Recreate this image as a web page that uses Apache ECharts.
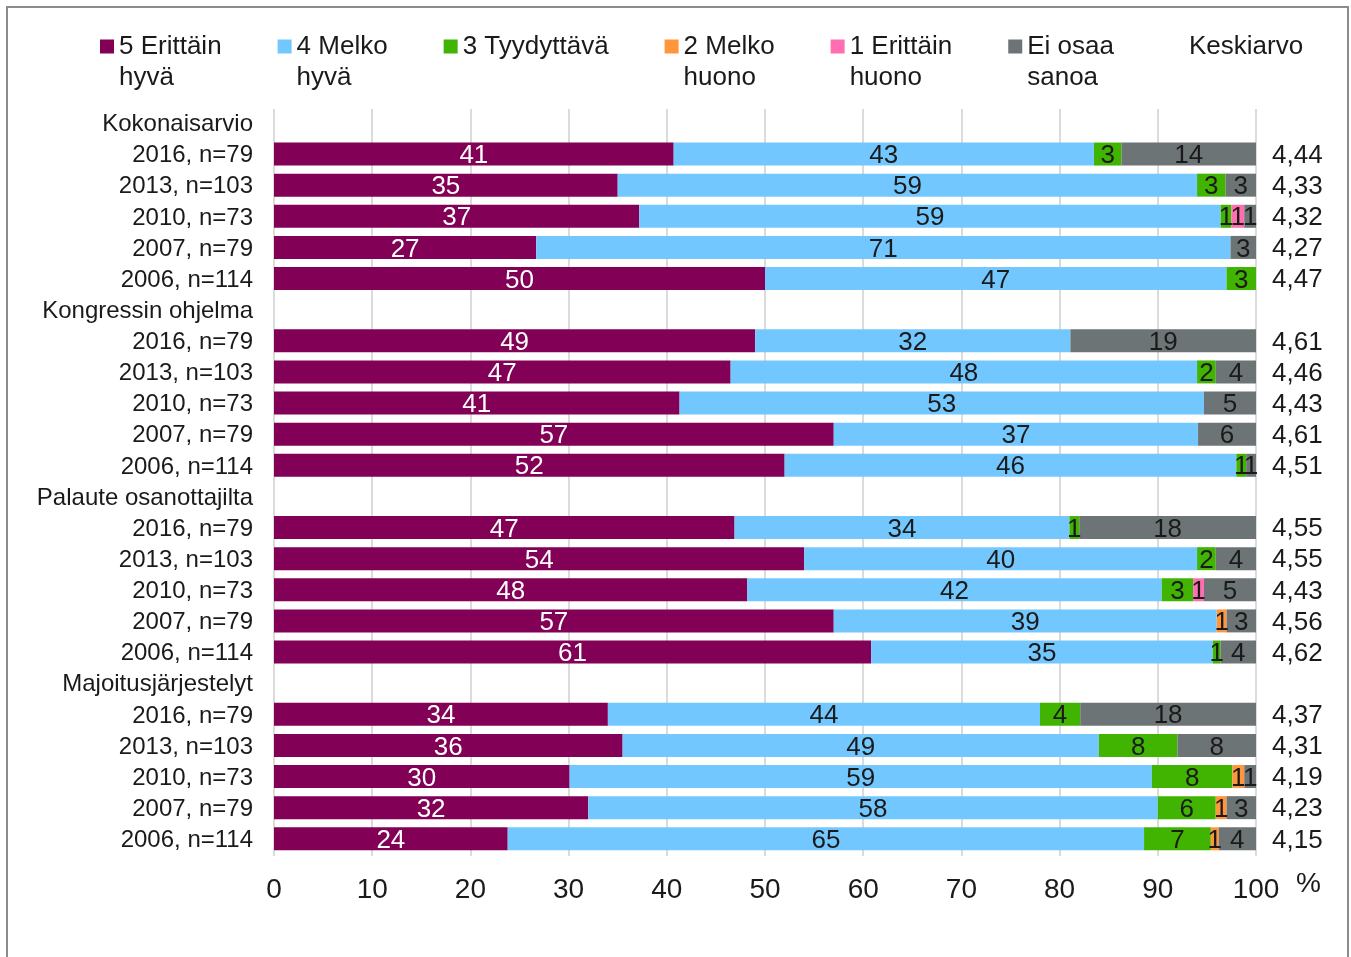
<!DOCTYPE html>
<html>
<head>
<meta charset="utf-8">
<script src="https://cdn.jsdelivr.net/npm/echarts@6/dist/echarts.min.js"></script>
<style>
  body { margin: 0; background: #fff; }
  #chart { position: absolute; left: 0; top: 0; width: 1351px; height: 957px; }
  #frame {
    position: absolute; left: 6px; top: 6px; width: 1339px; height: 960px;
    border: 2px solid #8c8c8c; border-bottom: none; pointer-events: none;
  }
</style>
</head>
<body>
<div id="chart"></div>
<div id="frame"></div>
<script>
// rivit (ryhmäotsikot mukana)
const rows = [
  'Kokonaisarvio', '2016, n=79', '2013, n=103', '2010, n=73', '2007, n=79', '2006, n=114',
  'Kongressin ohjelma', '2016, n=79', '2013, n=103', '2010, n=73', '2007, n=79', '2006, n=114',
  'Palaute osanottajilta', '2016, n=79', '2013, n=103', '2010, n=73', '2007, n=79', '2006, n=114',
  'Majoitusjärjestelyt', '2016, n=79', '2013, n=103', '2010, n=73', '2007, n=79', '2006, n=114'
];

const erittainHyva = [null, 40.7, 35.0, 37.2, 26.7, 50.0, null, 49.0, 46.5, 41.3, 57.0, 52.0,
  null, 46.9, 54.0, 48.2, 57.0, 60.8, null, 34.0, 35.5, 30.1, 32.0, 23.8];
const melkoHyva = [null, 42.8, 59.0, 59.2, 70.7, 47.0, null, 32.1, 47.5, 53.4, 37.1, 46.0,
  null, 34.1, 40.0, 42.2, 39.0, 34.8, null, 44.0, 48.5, 59.3, 58.0, 64.8];
const tyydyttava = [null, 2.8, 2.9, 1.1, 0, 3.0, null, 0, 1.9, 0, 0, 1.0,
  null, 1.0, 1.9, 3.2, 0, 0.8, null, 4.1, 8.0, 8.2, 5.9, 6.8];
const melkoHuono = [null, 0, 0, 0, 0, 0, null, 0, 0, 0, 0, 0,
  null, 0, 0, 0, 1.0, 0, null, 0, 0, 1.2, 1.1, 0.8];
const erittainHuono = [null, 0, 0, 1.3, 0, 0, null, 0, 0, 0, 0, 0,
  null, 0, 0, 1.1, 0, 0, null, 0, 0, 0, 0, 0];
const eiOsaa = [null, 13.7, 3.1, 1.2, 2.6, 0, null, 18.9, 4.1, 5.3, 5.9, 1.0,
  null, 18.0, 4.1, 5.3, 3.0, 3.6, null, 17.9, 8.0, 1.2, 3.0, 3.8];

const keskiarvo = ['', '4,44', '4,33', '4,32', '4,27', '4,47', '', '4,61', '4,46', '4,43', '4,61', '4,51',
  '', '4,55', '4,55', '4,43', '4,56', '4,62', '', '4,37', '4,31', '4,19', '4,23', '4,15'];

const FONT = '"Liberation Sans", Arial, sans-serif';
const TXT = '#1a1a1a';

function segment(name, data, color, labelColor) {
  return {
    name: name,
    type: 'bar',
    stack: 'total',
    data: data,
    barWidth: 23,
    itemStyle: { color: color },
    label: {
      show: true,
      position: 'inside',
      offset: [0, 2],
      color: labelColor,
      fontSize: 26,
      fontFamily: FONT,
      formatter: (p) => (p.value ? Math.round(p.value) : '')
    }
  };
}

// legendan nimi kahdelle riville, ikoni ensimmäisen rivin kohdalle
function legendName(n) {
  if (n === 'Keskiarvo' || n === '3 Tyydyttävä') return n;
  const i = n.lastIndexOf(' ');
  return '\n' + n.slice(0, i) + '\n' + n.slice(i + 1);
}

let myChart = echarts.init(document.getElementById('chart'));

myChart.setOption({
  animation: false,
  textStyle: { fontFamily: FONT },
  grid: { left: 274, right: 95, top: 109, height: 747 },
  legend: {
    left: 100,
    top: 0,
    padding: 0,
    itemWidth: 14,
    itemHeight: 14,
    itemGap: 56,
    icon: 'rect',
    selectedMode: false,
    formatter: legendName,
    textStyle: { fontSize: 26, color: TXT, lineHeight: 31 },
    data: ['5 Erittäin hyvä', '4 Melko hyvä', '3 Tyydyttävä', '2 Melko huono',
      '1 Erittäin huono', 'Ei osaa sanoa', 'Keskiarvo']
  },
  xAxis: {
    type: 'value',
    min: 0,
    max: 100,
    interval: 10,
    axisLine: { show: false },
    axisTick: { show: false },
    axisLabel: { fontSize: 28, color: TXT, margin: 20 },
    splitLine: { lineStyle: { color: '#cfcfcf', width: 1.5 } },
    name: '%',
    nameLocation: 'end',
    nameGap: 40,
    nameTextStyle: { fontSize: 28, color: TXT, verticalAlign: 'top', padding: [14, 0, 0, 0] }
  },
  yAxis: [
    {
      type: 'category',
      inverse: true,
      data: rows,
      axisLine: { show: false },
      axisTick: { show: false },
      axisLabel: { fontSize: 24, color: TXT, margin: 21, interval: 0 }
    },
    {
      type: 'category',
      inverse: true,
      position: 'right',
      data: rows,
      axisLine: { show: false },
      axisTick: { show: false },
      axisLabel: { fontSize: 26, color: TXT, margin: 16, interval: 0, formatter: (v, i) => keskiarvo[i] }
    }
  ],
  series: [
    segment('5 Erittäin hyvä', erittainHyva, '#820055', '#ffffff'),
    segment('4 Melko hyvä', melkoHyva, '#73C7FF', TXT),
    segment('3 Tyydyttävä', tyydyttava, '#40B400', TXT),
    segment('2 Melko huono', melkoHuono, '#FF963C', TXT),
    segment('1 Erittäin huono', erittainHuono, '#FF6EB0', TXT),
    segment('Ei osaa sanoa', eiOsaa, '#6D7476', TXT),
    { name: 'Keskiarvo', type: 'bar', data: [], itemStyle: { color: 'rgba(0,0,0,0)' } }
  ]
});
</script>
</body>
</html>
